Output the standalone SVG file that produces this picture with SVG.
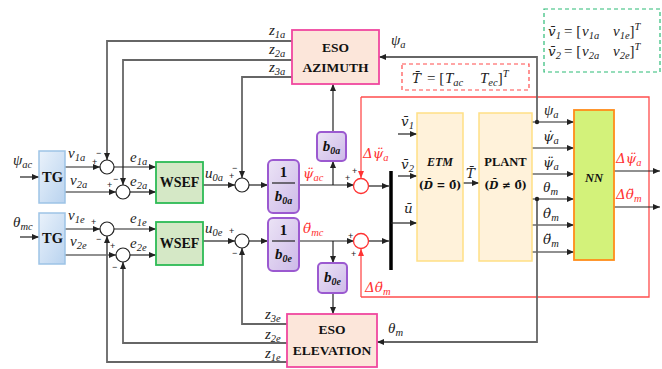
<svg xmlns="http://www.w3.org/2000/svg" width="662" height="369" viewBox="0 0 662 369">
<style>
.m{font-family:"Liberation Serif",serif;font-style:italic;font-size:15px;fill:#222}
.d{font-family:"DejaVu Serif",serif;font-style:italic;font-size:13.5px;fill:#222}
.u{font-style:normal}
.s{font-size:10.5px;font-family:"Liberation Serif",serif}
.r{fill:#ff3333}
.b{font-family:"Liberation Serif",serif;font-weight:bold;fill:#111;text-anchor:middle}
.db{font-family:"DejaVu Serif",serif;font-weight:bold;fill:#111;text-anchor:middle;font-size:10.5px}
.sg{font-family:"Liberation Sans",sans-serif;font-size:9px;fill:#222}
.ln{stroke:#222;stroke-width:1.2;fill:none}
.gl{stroke:#666;stroke-width:1.8;fill:none}
.rl{stroke:#ff4d4d;stroke-width:1.3;fill:none}
.ci{fill:#fff;stroke:#222;stroke-width:1.2}
.rc{fill:#fff;stroke:#ff3333;stroke-width:1.3}
.pb{fill:url(#gp);stroke:#9b59d0;stroke-width:2}
</style>
<defs>
<marker id="a" markerWidth="7" markerHeight="6" refX="7" refY="3" orient="auto" markerUnits="userSpaceOnUse"><path d="M0,0 L7,3 L0,6 z" fill="#222"/></marker>
<marker id="ar" markerWidth="7" markerHeight="6" refX="7" refY="3" orient="auto" markerUnits="userSpaceOnUse"><path d="M0,0 L7,3 L0,6 z" fill="#ff3333"/></marker>
<linearGradient id="gb" x1="0" y1="0" x2="1" y2="1"><stop offset="0" stop-color="#eaf2fb"/><stop offset="1" stop-color="#b9d3ef"/></linearGradient>
<linearGradient id="gp" x1="0" y1="0" x2="1" y2="1"><stop offset="0" stop-color="#ece4f6"/><stop offset="1" stop-color="#cdb9e8"/></linearGradient>
</defs>

<g id="connectors">
<path class="ln" d="M20,177 H39" marker-end="url(#a)"/>
<path class="ln" d="M65,167 H100" marker-end="url(#a)"/>
<path class="ln" d="M65,192 H116" marker-end="url(#a)"/>
<path class="gl" d="M292,41 H107 V160" marker-end="url(#a)"/>
<path class="gl" d="M292,60 H123 V185" marker-end="url(#a)"/>
<path class="ln" d="M114,167 H156" marker-end="url(#a)"/>
<path class="ln" d="M130,192 H156" marker-end="url(#a)"/>
<path class="ln" d="M203,185 H235" marker-end="url(#a)"/>
<path class="gl" d="M292,77 H242 V178" marker-end="url(#a)"/>
<path class="ln" d="M249,185 H268" marker-end="url(#a)"/>
<path class="ln" d="M299,185 H354" marker-end="url(#a)"/>
<path class="ln" d="M333,185 V161" marker-end="url(#a)"/>
<path class="ln" d="M333,132 V84" marker-end="url(#a)"/>

<path class="ln" d="M20,237 H39" marker-end="url(#a)"/>
<path class="ln" d="M65,229 H100" marker-end="url(#a)"/>
<path class="ln" d="M65,255 H116" marker-end="url(#a)"/>
<path class="ln" d="M114,229 H156" marker-end="url(#a)"/>
<path class="ln" d="M130,255 H156" marker-end="url(#a)"/>
<path class="gl" d="M287,362 H107 V236" marker-end="url(#a)"/>
<path class="gl" d="M287,343 H123 V262" marker-end="url(#a)"/>
<path class="ln" d="M203,241 H235" marker-end="url(#a)"/>
<path class="gl" d="M287,324 H242 V248" marker-end="url(#a)"/>
<path class="ln" d="M249,241 H268" marker-end="url(#a)"/>
<path class="ln" d="M299,241 H354" marker-end="url(#a)"/>
<path class="ln" d="M333,241 V263" marker-end="url(#a)"/>
<path class="ln" d="M333,293 V314" marker-end="url(#a)"/>

<path class="rl" d="M361,97 H649 V297 H361"/>
<path class="rl" d="M361,97 V178" marker-end="url(#ar)"/>
<path class="rl" d="M361,297 V249" marker-end="url(#ar)"/>
<path class="ln" d="M369,186 H389" marker-end="url(#a)"/>
<path class="ln" d="M369,241 H389" marker-end="url(#a)"/>
<path d="M391,171 V270" stroke="#000" stroke-width="3.5"/>
<path class="ln" d="M398,134 H417" marker-end="url(#a)"/>
<path class="ln" d="M398,176 H417" marker-end="url(#a)"/>
<path class="ln" d="M391,223 H417" marker-end="url(#a)"/>
<path class="ln" d="M463,183 H479" marker-end="url(#a)"/>
<path class="ln" d="M532,122 H574" marker-end="url(#a)"/>
<path class="ln" d="M532,148 H574" marker-end="url(#a)"/>
<path class="ln" d="M532,174 H574" marker-end="url(#a)"/>
<path class="ln" d="M532,199 H574" marker-end="url(#a)"/>
<path class="ln" d="M532,225 H574" marker-end="url(#a)"/>
<path class="ln" d="M532,252 H574" marker-end="url(#a)"/>
<path class="gl" d="M537,122 V57 H379" marker-end="url(#a)"/>
<path class="gl" d="M537,199 V342 H377" marker-end="url(#a)"/>
<circle cx="537" cy="122" r="2.2" fill="#222"/>
<circle cx="537" cy="199" r="2.2" fill="#222"/>
<path class="ln" d="M614,171 H660" marker-end="url(#a)"/>
<path class="ln" d="M614,207 H660" marker-end="url(#a)"/>
</g>

<g id="tg-az">
<rect x="39" y="151" width="26" height="52" fill="url(#gb)" stroke="#9dc3e6" stroke-width="1.5"/>
<text class="b" x="52.5" y="182" font-size="14.5">TG</text>
</g>
<g id="tg-el">
<rect x="39" y="213" width="26" height="51" fill="url(#gb)" stroke="#9dc3e6" stroke-width="1.5"/>
<text class="b" x="52.5" y="243" font-size="14.5">TG</text>
</g>

<g id="sums">
<circle class="ci" cx="107" cy="167" r="7"/>
<circle class="ci" cx="123" cy="192" r="7"/>
<circle class="ci" cx="107" cy="229" r="7"/>
<circle class="ci" cx="123" cy="255" r="7"/>
<circle class="ci" cx="242" cy="185" r="7"/>
<circle class="ci" cx="242" cy="241" r="7"/>
<circle class="rc" cx="361" cy="186" r="7.5"/>
<circle class="rc" cx="361" cy="241" r="7.5"/>
<text class="sg" x="96" y="156">−</text>
<text class="sg" x="92" y="165">+</text>
<text class="sg" x="107" y="188">+</text>
<text class="sg" x="113" y="182">−</text>
<text class="sg" x="91" y="225">+</text>
<text class="sg" x="96" y="242">−</text>
<text class="sg" x="110" y="249">+</text>
<text class="sg" x="112" y="270">−</text>
<text class="sg" x="232" y="171">−</text>
<text class="sg" x="229" y="179">+</text>
<text class="sg" x="229" y="234">+</text>
<text class="sg" x="232" y="256">−</text>
<text class="sg r" x="352" y="174">+</text>
<text class="sg r" x="345" y="181">+</text>
<text class="sg r" x="348" y="239">+</text>
<text class="sg r" x="351" y="257">+</text>
</g>

<g id="wsef-az">
<rect x="156" y="162" width="47" height="41" fill="#d5e8c6" stroke="#2dbb55" stroke-width="1.8"/>
<text class="b" x="179.5" y="187" font-size="14">WSEF</text>
</g>
<g id="wsef-el">
<rect x="156" y="222" width="47" height="43" fill="#d5e8c6" stroke="#2dbb55" stroke-width="1.8"/>
<text class="b" x="179.5" y="248" font-size="14">WSEF</text>
</g>

<g id="inv-b0a">
<rect class="pb" x="268" y="160" width="31" height="53" rx="5"/>
<text class="b" x="283.5" y="177" font-size="15">1</text>
<path d="M272,183 H295" stroke="#222" stroke-width="1.2"/>
<text class="b" x="283.5" y="201" font-size="15" font-style="italic">b<tspan font-size="10" dy="3">0a</tspan></text>
</g>
<g id="inv-b0e">
<rect class="pb" x="268" y="218" width="31" height="53" rx="5"/>
<text class="b" x="283.5" y="235" font-size="15">1</text>
<path d="M272,241 H295" stroke="#222" stroke-width="1.2"/>
<text class="b" x="283.5" y="259" font-size="15" font-style="italic">b<tspan font-size="10" dy="3">0e</tspan></text>
</g>
<g id="b0a">
<rect class="pb" x="317" y="132" width="29" height="29" rx="4"/>
<text class="b" x="331.5" y="151" font-size="15" font-style="italic">b<tspan font-size="10" dy="3">0a</tspan></text>
</g>
<g id="b0e">
<rect class="pb" x="318" y="263" width="29" height="30" rx="4"/>
<text class="b" x="332.5" y="282" font-size="15" font-style="italic">b<tspan font-size="10" dy="3">0e</tspan></text>
</g>

<g id="eso-az">
<rect x="292" y="30" width="87" height="54" fill="#fce6da" stroke="#f0479f" stroke-width="1.8"/>
<text class="b" x="335.5" y="52" font-size="13.5">ESO</text>
<text class="b" x="335.5" y="72" font-size="13.5">AZIMUTH</text>
</g>
<g id="eso-el">
<rect x="287" y="314" width="90" height="53" fill="#fce6da" stroke="#f0479f" stroke-width="1.8"/>
<text class="b" x="332" y="334" font-size="13.5">ESO</text>
<text class="b" x="332" y="355" font-size="13.5">ELEVATION</text>
</g>

<g id="etm">
<rect x="417" y="113" width="46" height="148" fill="#fff2da" stroke="#ffdf85" stroke-width="1.5"/>
<text class="b" x="440" y="166" font-size="12" font-style="italic">ETM</text>
<text class="db" x="440" y="189">(<tspan font-style="italic">D̄</tspan> = 0̄)</text>
</g>
<g id="plant">
<rect x="479" y="113" width="53" height="148" fill="#fff2da" stroke="#ffdf85" stroke-width="1.5"/>
<text class="b" x="505.5" y="166" font-size="12.5">PLANT</text>
<text class="db" x="505.5" y="189">(<tspan font-style="italic">D̄</tspan> ≠ 0̄)</text>
</g>
<g id="nn">
<rect x="574" y="110" width="40" height="150" fill="#d3f27a" stroke="#ff8c1a" stroke-width="1.8"/>
<text class="b" x="594" y="182" font-size="12.5" font-style="italic">NN</text>
</g>

<g id="t-box">
<rect x="402" y="64" width="127" height="26" fill="none" stroke="#ff4d4d" stroke-width="1.2" stroke-dasharray="4,3"/>
<text class="d" x="412" y="83">T̄</text>
<text class="m u" x="427" y="83">= [</text>
<text class="m" x="445" y="83">T<tspan class="s" dy="3">ac</tspan></text>
<text class="m" x="480" y="83">T<tspan class="s" dy="3">ec</tspan><tspan class="u" dy="-3">]</tspan><tspan class="s" dy="-6">T</tspan></text>
</g>
<g id="v-box">
<rect x="544" y="9" width="116" height="63" fill="none" stroke="#2dbb77" stroke-width="1.2" stroke-dasharray="4,3"/>
<text class="d" x="548" y="36">v̄<tspan class="s" dy="3">1</tspan></text>
<text class="m u" x="564" y="36">= [</text>
<text class="m" x="582" y="36">v<tspan class="s" dy="3">1a</tspan></text>
<text class="m" x="613" y="36">v<tspan class="s" dy="3">1e</tspan><tspan class="u" dy="-3">]</tspan><tspan class="s" dy="-6">T</tspan></text>
<text class="d" x="548" y="56">v̄<tspan class="s" dy="3">2</tspan></text>
<text class="m u" x="564" y="56">= [</text>
<text class="m" x="582" y="56">v<tspan class="s" dy="3">2a</tspan></text>
<text class="m" x="613" y="56">v<tspan class="s" dy="3">2e</tspan><tspan class="u" dy="-3">]</tspan><tspan class="s" dy="-6">T</tspan></text>
</g>

<g id="labels">
<text class="m" x="13" y="165">ψ<tspan class="s" dy="3">ac</tspan></text>
<text class="m" x="13" y="227">θ<tspan class="s" dy="3">mc</tspan></text>
<text class="m" x="68" y="158">v<tspan class="s" dy="3">1a</tspan></text>
<text class="m" x="70" y="185">v<tspan class="s" dy="3">2a</tspan></text>
<text class="m" x="68" y="220">v<tspan class="s" dy="3">1e</tspan></text>
<text class="m" x="70" y="246">v<tspan class="s" dy="3">2e</tspan></text>
<text class="m" x="130" y="162">e<tspan class="s" dy="3">1a</tspan></text>
<text class="m" x="130" y="186">e<tspan class="s" dy="3">2a</tspan></text>
<text class="m" x="130" y="223">e<tspan class="s" dy="3">1e</tspan></text>
<text class="m" x="130" y="248">e<tspan class="s" dy="3">2e</tspan></text>
<text class="m" x="205" y="178">u<tspan class="s" dy="3">0a</tspan></text>
<text class="m" x="205" y="233">u<tspan class="s" dy="3">0e</tspan></text>
<text class="m" x="269" y="35">z<tspan class="s" dy="3">1a</tspan></text>
<text class="m" x="269" y="54">z<tspan class="s" dy="3">2a</tspan></text>
<text class="m" x="269" y="72">z<tspan class="s" dy="3">3a</tspan></text>
<text class="m" x="265" y="319">z<tspan class="s" dy="3">3e</tspan></text>
<text class="m" x="265" y="339">z<tspan class="s" dy="3">2e</tspan></text>
<text class="m" x="265" y="358">z<tspan class="s" dy="3">1e</tspan></text>
<text class="m" x="391" y="45">ψ<tspan class="s" dy="3">a</tspan></text>
<text class="m" x="388" y="333">θ<tspan class="s" dy="3">m</tspan></text>
<text class="d r" x="303" y="178">ψ̈<tspan class="s" dy="3">ac</tspan></text>
<text class="d r" x="303" y="233">θ̈<tspan class="s" dy="3">mc</tspan></text>
<text class="d r" x="363" y="158">Δψ̈<tspan class="s" dy="3">a</tspan></text>
<text class="d r" x="365" y="292">Δθ̈<tspan class="s" dy="3">m</tspan></text>
<text class="d" x="401" y="126">v̄<tspan class="s" dy="3">1</tspan></text>
<text class="d" x="401" y="169">v̄<tspan class="s" dy="3">2</tspan></text>
<text class="d" x="404" y="213">ū</text>
<text class="d" x="466" y="178">T̄</text>
<text class="m" x="544" y="115">ψ<tspan class="s" dy="3">a</tspan></text>
<text class="d" x="543" y="141">ψ̇<tspan class="s" dy="3">a</tspan></text>
<text class="d" x="543" y="167">ψ̈<tspan class="s" dy="3">a</tspan></text>
<text class="m" x="543" y="192">θ<tspan class="s" dy="3">m</tspan></text>
<text class="d" x="543" y="218">θ̇<tspan class="s" dy="3">m</tspan></text>
<text class="d" x="543" y="244">θ̈<tspan class="s" dy="3">m</tspan></text>
<text class="d r" x="616" y="163">Δψ̈<tspan class="s" dy="3">a</tspan></text>
<text class="d r" x="616" y="199">Δθ̈<tspan class="s" dy="3">m</tspan></text>
</g>
</svg>
